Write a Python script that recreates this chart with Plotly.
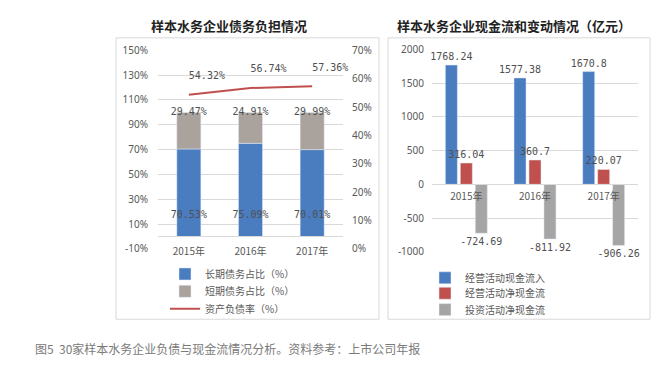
import plotly.graph_objects as go

W, H = 666, 386

# ---------------- data ----------------
years = ["2015年", "2016年", "2017年"]
long_debt = [70.53, 75.09, 70.01]       # 长期债务占比（%）
short_debt = [29.47, 24.91, 29.99]      # 短期债务占比（%）
debt_ratio = [54.32, 56.74, 57.36]      # 资产负债率（%）

op_inflow = [1768.24, 1577.38, 1670.8]  # 经营活动现金流入
op_net = [316.04, 360.7, 220.07]        # 经营活动净现金流
inv_net = [-724.69, -811.92, -906.26]   # 投资活动净现金流

left_ticks = list(range(-10, 151, 20))
right_ticks = list(range(0, 71, 10))
cash_ticks = list(range(-1000, 2001, 500))

# ---------------- helpers ----------------
def px_x(p):
    return p / W

def px_y(p):
    return 1 - p / H

BLUE = "#4A7CC0"
GRAY_L = "#A9A29D"
RED = "#C0504D"
GRAY_R = "#A5A5A5"
TXT = "#595959"
LBL = "#505050"
GRID = "#D9D9D9"
CJK = "Noto Sans CJK SC"
MONO = "DejaVu Sans Mono"
lblfont = dict(family=MONO, size=10, color=LBL)

fig = go.Figure()

# ---- left chart ----
bw = 0.39
fig.add_trace(go.Bar(
    x=years, y=long_debt, name="长期债务占比（%）",
    marker_color=BLUE, width=bw, offset=-bw / 2,
    text=[f"{v:.2f}%<br> " for v in long_debt],
    textposition="inside", insidetextanchor="start", textangle=0,
    textfont=lblfont, constraintext="none", cliponaxis=False,
    xaxis="x", yaxis="y", legend="legend",
))
fig.add_trace(go.Bar(
    x=years, y=short_debt, base=long_debt, name="短期债务占比（%）",
    marker_color=GRAY_L, width=bw, offset=-bw / 2,
    textposition="none",
    xaxis="x", yaxis="y", legend="legend2",
))
# labels of the short-term segments, centred on the top of each stack
fig.add_trace(go.Scatter(
    x=years, y=[a + b for a, b in zip(long_debt, short_debt)],
    mode="text", text=[f"{v:.2f}%" for v in short_debt],
    textposition="middle center", textfont=lblfont,
    cliponaxis=False, showlegend=False, hoverinfo="skip",
    xaxis="x", yaxis="y",
))
fig.add_trace(go.Scatter(
    x=years, y=debt_ratio, name="资产负债率（%）",
    mode="lines+text", line=dict(color=RED, width=2),
    text=[f"{v:.2f}%<br> " for v in debt_ratio],
    textposition="top right", textfont=lblfont,
    cliponaxis=False,
    xaxis="x", yaxis="y2", legend="legend3",
))

# ---- right chart ----
rw = 0.175
step = 0.218
for i, (vals, name, col) in enumerate([
    (op_inflow, "经营活动现金流入", BLUE),
    (op_net, "经营活动净现金流", RED),
    (inv_net, "投资活动净现金流", GRAY_R),
]):
    c = (i - 1) * step
    fig.add_trace(go.Bar(
        x=years, y=vals, name=name, marker_color=col,
        width=rw, offset=c - rw / 2,
        text=[f"{v:g}" for v in vals],
        textposition="outside", textangle=0,
        textfont=lblfont, constraintext="none", cliponaxis=False,
        xaxis="x2", yaxis="y3", legend=f"legend{4 + i}",
    ))

# ---------------- layout ----------------
Ldom = [px_x(158), px_x(343)]
LYdom = [px_y(251), px_y(45)]
Rdom = [px_x(432), px_x(638)]
RYdom = [px_y(254), px_y(44)]

l_zero = LYdom[0] + (0 - (-10)) / 160 * (LYdom[1] - LYdom[0])
r_zero = RYdom[0] + (0 - (-1000)) / 3000 * (RYdom[1] - RYdom[0])

tickfont = dict(family="Noto Sans", size=10, color=TXT)
legfont = dict(family=CJK, size=10, color=TXT)


def leg(xp, yp):
    return dict(x=px_x(xp), y=px_y(yp), xanchor="left", yanchor="middle",
                bgcolor="rgba(0,0,0,0)", font=legfont, itemclick=False,
                borderwidth=0)


fig.update_layout(
    width=W, height=H,
    margin=dict(l=0, r=0, t=0, b=0),
    paper_bgcolor="white", plot_bgcolor="white",
    barmode="overlay",
    showlegend=True,
    font=dict(family=CJK, size=10, color=TXT),
    xaxis=dict(domain=Ldom, anchor="free", position=l_zero,
               showgrid=False, showline=True, linecolor=GRID, linewidth=1,
               ticks="", ticklabelstandoff=6,
               tickfont=dict(family=CJK, size=10, color=TXT)),
    yaxis=dict(domain=LYdom, range=[-10, 150], tickvals=left_ticks,
               ticktext=[f"{t}%" for t in left_ticks],
               showgrid=True, gridcolor=GRID, ticklabelstandoff=9,
               zeroline=False, tickfont=tickfont, ticks="", anchor="x"),
    yaxis2=dict(overlaying="y", side="right", range=[0, 70],
                tickvals=right_ticks, ticktext=[f"{t}%" for t in right_ticks],
                showgrid=False, ticklabelstandoff=8,
                zeroline=False, tickfont=tickfont, ticks="", anchor="x"),
    xaxis2=dict(domain=Rdom, anchor="free", position=r_zero,
                showgrid=False, showline=True, linecolor=GRID, linewidth=1,
                ticks="", ticklabelstandoff=3,
                tickfont=dict(family=CJK, size=10, color=TXT)),
    yaxis3=dict(domain=RYdom, range=[-1000, 2000], tickvals=cash_ticks,
                ticktext=[str(t) for t in cash_ticks],
                showgrid=True, gridcolor=GRID, zeroline=False,
                ticklabelstandoff=7,
                tickfont=tickfont, ticks="", anchor="x2"),
    legend=leg(165, 277),
    legend2=leg(165, 295),
    legend3=leg(165, 313),
    legend4=leg(425, 281),
    legend5=leg(425, 297),
    legend6=leg(425, 314),
    shapes=[
        dict(type="rect", xref="paper", yref="paper",
             x0=px_x(116), x1=px_x(379), y0=px_y(324), y1=px_y(32),
             line=dict(color=GRID, width=1)),
        dict(type="rect", xref="paper", yref="paper",
             x0=px_x(388), x1=px_x(650), y0=px_y(324), y1=px_y(32),
             line=dict(color=GRID, width=1)),
    ],
    annotations=[
        dict(text="<b>样本水务企业债务负担情况</b>", xref="paper", yref="paper",
             x=px_x(229), y=px_y(19), xanchor="center", yanchor="middle",
             showarrow=False, font=dict(family=CJK, size=13, color="#222222")),
        dict(text="<b>样本水务企业现金流和变动情况（亿元）</b>", xref="paper", yref="paper",
             x=px_x(514), y=px_y(19), xanchor="center", yanchor="middle",
             showarrow=False, font=dict(family=CJK, size=13, color="#222222")),
        dict(text="图5  30家样本水务企业负债与现金流情况分析。资料参考：上市公司年报",
             xref="paper", yref="paper", x=px_x(33), y=px_y(354),
             xanchor="left", yanchor="middle", showarrow=False,
             font=dict(family=CJK, size=12, color="#7a7a7a")),
    ],
)

fig.write_html(
    "out.html",
    config={"displayModeBar": False},
    post_script="document.body.style.margin='0';document.body.style.overflow='hidden';",
)
